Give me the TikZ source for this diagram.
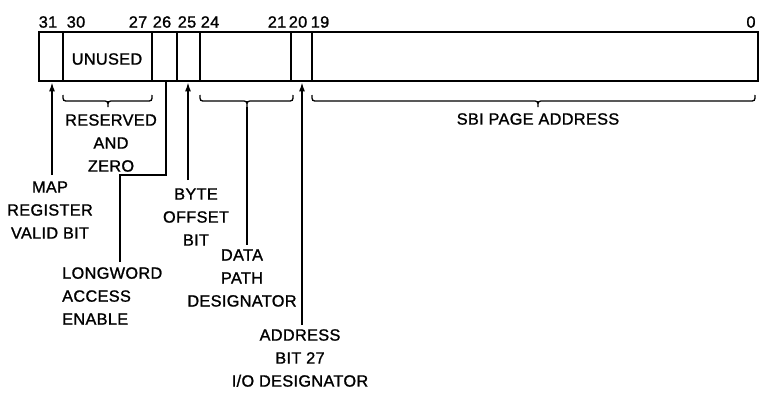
\documentclass[tikz,border=0pt]{standalone}
\usepackage{fontspec}
\setmainfont{Liberation Sans}[FakeBold=1.2,LetterSpace=2]
\usetikzlibrary{arrows.meta}
\begin{document}
\begin{tikzpicture}[x=1pt,y=-1pt,
  lbl/.style={inner sep=0pt, align=center, font=\fontsize{16.3}{23}\selectfont},
  bitno/.style={inner sep=0pt, font=\fontsize{16.3}{18}\selectfont},
  divider/.style={line width=1.4pt},
  conn/.style={line width=1.4pt},
  arr/.style={line width=1.4pt, -{Latex[length=9pt,width=6pt]}},
  brc/.style={line width=1.3pt}]
\useasboundingbox (0,0) rectangle (762,392);
% register
\node[draw, line width=2.4pt, minimum width=719pt, minimum height=49pt, inner sep=0pt, anchor=north west] (reg) at (38,31) {};
\foreach \x in {63,152,177,200,291,312} \draw[divider] (\x,31) -- (\x,80);
\node[lbl] (unused) at (107,59) {UNUSED};
% bit numbers
\node[bitno] (n31) at (48,22) {31};
\node[bitno] (n30) at (76,22) {30};
\node[bitno] (n27) at (138,22) {27};
\node[bitno] (n26) at (162,22) {26};
\node[bitno] (n25) at (187,22) {25};
\node[bitno] (n24) at (210,22) {24};
\node[bitno] (n21) at (277,22) {21};
\node[bitno] (n20) at (298,22) {20};
\node[bitno] (n19) at (320,22) {19};
\node[bitno] (n0) at (751,22) {0};
% braces
\draw[brc] (63,95) .. controls (63,101) .. (69,101) -- (102,101) .. controls (108,101) .. (108,107) .. controls (108,101) .. (114,101) -- (146,101) .. controls (152,101) .. (152,95);
\draw[brc] (200,95) .. controls (200,101) .. (206,101) -- (241,101) .. controls (247,101) .. (247,107) .. controls (247,101) .. (253,101) -- (287,101) .. controls (293,101) .. (293,95);
\draw[brc] (312,95) .. controls (312,101) .. (318,101) -- (532,101) .. controls (538,101) .. (538,107) .. controls (538,101) .. (544,101) -- (749,101) .. controls (755,101) .. (755,95);
\coordinate (dtip) at (247,107);
% labels
\node[lbl] (res) at (111,143) {RESERVED\\AND\\ZERO};
\node[lbl] (sbi) at (538,119) {SBI PAGE ADDRESS};
\node[lbl] (map) at (50,210) {MAP\\REGISTER\\VALID BIT};
\node[lbl, align=left, anchor=west] (long) at (62,296) {LONGWORD\\ACCESS\\ENABLE};
\node[lbl] (byte) at (196,217) {BYTE\\OFFSET\\BIT};
\node[lbl] (data) at (242,278) {DATA\\PATH\\DESIGNATOR};
\node[lbl] (addr) at (300,358) {ADDRESS\\BIT 27\\I/O DESIGNATOR};
% connectors
\coordinate (mapend) at (52,175);
\draw[arr] (mapend) -- (mapend |- reg.south);
\coordinate (longend) at (120,262);
\coordinate (longbend) at (166,175);
\draw[conn] (longend) -- (longend |- longbend) -- (longbend) -- (longbend |- reg.south);
\coordinate (byteend) at (188,180);
\draw[arr] (byteend) -- (byteend |- reg.south);
\coordinate (dataend) at (247,245);
\draw[conn] (dtip) -- (dataend);
\coordinate (addrend) at (302,325);
\draw[arr] (addrend) -- (addrend |- reg.south);
\end{tikzpicture}
\end{document}
